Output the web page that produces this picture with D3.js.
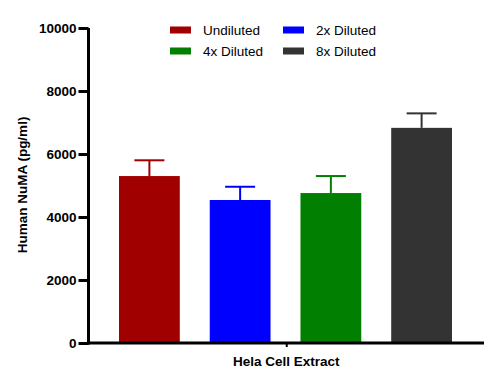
<!DOCTYPE html>
<html><head><meta charset="utf-8">
<script src="https://cdn.jsdelivr.net/npm/d3@7"></script>
<style>body{margin:0;background:#fff}svg{display:block}text{font-family:"Liberation Sans",Arial,sans-serif}</style>
</head><body><svg id="c" width="492" height="383"></svg>
<script>
const series = ["Undiluted","2x Diluted","4x Diluted","8x Diluted"];
const means = [5300, 4540, 4760, 6830];
const errs = [500, 420, 540, 460];
const colors = ["#a00000","#0000ff","#007f00","#333333"];
const yTicks = [0,2000,4000,6000,8000,10000];
const category = "Hela Cell Extract";

const svg = d3.select("#c");
const pLeft = 88.5, pRight = 484, pTop = 28, pBottom = 343;
const y = d3.scaleLinear().domain([0,10000]).range([pBottom, pTop]);
const x = d3.scaleBand().domain(series).range([119, 452]).paddingInner(0.33).paddingOuter(0);

// bars
const g = svg.append("g");
g.selectAll("rect.bar").data(series).join("rect")
  .attr("x", d => x(d)).attr("width", x.bandwidth())
  .attr("y", (d,i) => y(means[i])).attr("height", (d,i) => pBottom - y(means[i]))
  .attr("fill", (d,i) => colors[i]);
// error bars
series.forEach((s,i) => {
  const cx = x(s) + x.bandwidth()/2;
  g.append("line").attr("x1",cx).attr("x2",cx).attr("y1",y(means[i])).attr("y2",y(means[i]+errs[i]))
    .attr("stroke",colors[i]).attr("stroke-width",2);
  g.append("line").attr("x1",cx-15).attr("x2",cx+15).attr("y1",y(means[i]+errs[i])).attr("y2",y(means[i]+errs[i]))
    .attr("stroke",colors[i]).attr("stroke-width",2);
});

// y axis
const ya = svg.append("g").attr("transform",`translate(${pLeft},0)`)
  .call(d3.axisLeft(y).tickValues(yTicks).tickSize(10).tickPadding(2).tickFormat(d3.format("d")));
ya.select(".domain").attr("stroke","#000").attr("stroke-width",3).attr("d",`M0,${pBottom+1.5}V${pTop}`);
ya.selectAll(".tick line").attr("stroke","#000").attr("stroke-width",3);
ya.selectAll(".tick text").attr("font-size",13.5).attr("font-weight","bold").attr("fill","#000");

// x axis
const xs = d3.scalePoint().domain([category]).range([pLeft, pRight]).padding(0.5);
const xa = svg.append("g").attr("transform",`translate(0,${pBottom})`)
  .call(d3.axisBottom(xs).tickSize(4).tickFormat(""));
xa.select(".domain").attr("stroke","#000").attr("stroke-width",3).attr("d",`M${pLeft-1.5},0H${pRight}`);
xa.selectAll(".tick line").attr("stroke","#000").attr("stroke-width",2);
svg.append("text").attr("x", xs(category)).attr("y", 366).attr("text-anchor","middle")
  .attr("font-size",13.5).attr("font-weight","bold").text(category);

// y label
svg.append("text").attr("transform","translate(27,185) rotate(-90)").attr("text-anchor","middle")
  .attr("font-size",13.5).attr("font-weight","bold").text("Human NuMA (pg/ml)");

// legend
const leg = [[170,30],[283,30],[170,51],[283,51]];
[0,1,2,3].forEach((i,k) => {
  const [lx,ly] = leg[k];
  svg.append("rect").attr("x",lx).attr("y",ly-3.5).attr("width",21).attr("height",7).attr("fill",colors[i]);
  svg.append("text").attr("x",lx+33).attr("y",ly+5).attr("font-size",13.5).attr("fill","#000").text(series[i]);
});
</script></body></html>
